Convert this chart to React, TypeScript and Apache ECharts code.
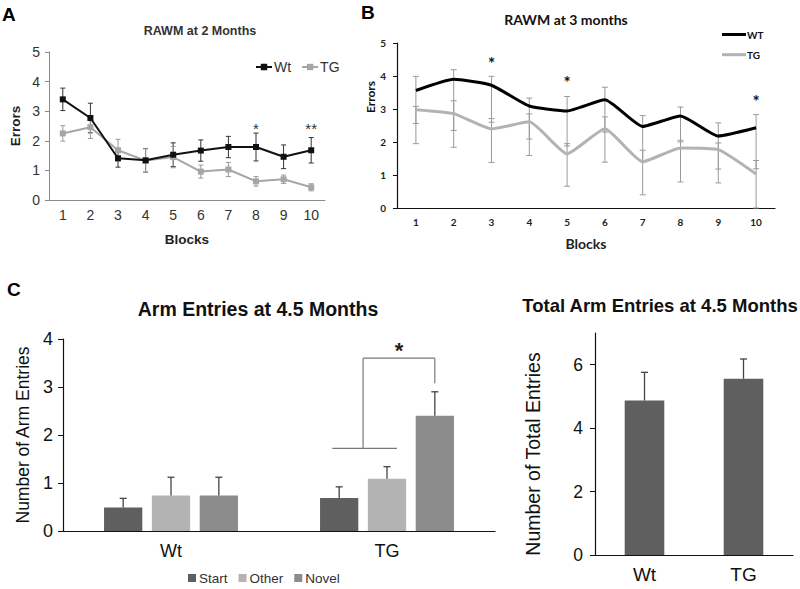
import React, { useEffect, useRef } from 'react';
import * as echarts from 'echarts';

// ---------- Panel A: RAWM at 2 Months ----------
const blockLabels = ['1', '2', '3', '4', '5', '6', '7', '8', '9', '10'];
const aWt = [3.40, 2.77, 1.41, 1.34, 1.53, 1.67, 1.79, 1.79, 1.46, 1.68];
const aWtErr = [0.38, 0.5, 0.3, 0.4, 0.4, 0.36, 0.36, 0.47, 0.4, 0.43];
const aTg = [2.25, 2.46, 1.68, 1.33, 1.45, 0.96, 1.03, 0.63, 0.70, 0.43];
const aTgErr = [0.26, 0.38, 0.37, 0.4, 0.36, 0.22, 0.24, 0.16, 0.14, 0.12];
const aStars = ['', '', '', '', '', '', '', '*', '', '**'];
const aStarLevel = 2.43;

// ---------- Panel B: RAWM at 3 months ----------
const bWt = [3.56, 3.90, 3.72, 3.09, 2.94, 3.28, 2.47, 2.79, 2.18, 2.43];
const bTg = [2.98, 2.86, 2.40, 2.61, 1.64, 2.40, 1.40, 1.82, 1.77, 1.03];
const bWtHigh = [3.99, 4.19, 3.99, 3.33, 3.38, 3.66, 2.80, 3.06, 2.58, 2.83];
const bWtLow = [2.56, 2.35, 2.60, 2.09, 1.88, 2.30, 1.42, 2.00, 1.18, 1.19];
const bTgHigh = [3.08, 3.25, 2.71, 2.85, 1.95, 2.76, 1.75, 2.05, 1.97, 1.44];
const bTgLow = [1.95, 1.84, 1.38, 1.59, 0.66, 1.39, 0.40, 0.79, 0.76, 0.00];
const bStars = ['', '', '*', '', '*', '', '', '', '', '*'];
const bStarLevels = [0, 0, 4.37, 0, 3.80, 0, 0, 0, 0, 3.23];

// ---------- Panel C left: Arm Entries at 4.5 Months ----------
const armGroups = ['Wt', 'TG'];
const armStart = [0.49, 0.69];
const armStartErr = [0.19, 0.23];
const armOther = [0.74, 1.09];
const armOtherErr = [0.38, 0.25];
const armNovel = [0.74, 2.40];
const armNovelErr = [0.38, 0.50];
const bracketLow = 1.72;
const bracketTop = 3.6;
const bracketRightEnd = 3.08;
const bracketStarLevel = 3.77;

// ---------- Panel C right: Total Arm Entries ----------
const totalGroups = ['Wt', 'TG'];
const totalEntries = [4.87, 5.56];
const totalErr = [0.89, 0.62];
const totalTicks = [0, 2, 4, 6];

const FA = 'Liberation Sans, Arial, sans-serif';
const FB = 'Lato, Open Sans, sans-serif';

const CAT_GAP = 0.38;
const BAR_GAP = 0.25;

const rangeRender = (stroke: string, lw: number, capHalf: number) => (params: any, api: any) => {
  const lo = api.coord([api.value(0), api.value(1)]);
  const hi = api.coord([api.value(0), api.value(2)]);
  const x = lo[0];
  const st = { stroke, lineWidth: lw };
  return {
    type: 'group',
    children: [
      { type: 'line', shape: { x1: x, y1: lo[1], x2: x, y2: hi[1] }, style: st },
      { type: 'line', shape: { x1: x - capHalf, y1: lo[1], x2: x + capHalf, y2: lo[1] }, style: st },
      { type: 'line', shape: { x1: x - capHalf, y1: hi[1], x2: x + capHalf, y2: hi[1] }, style: st },
    ],
  };
};

const groupedBarWidth = (bw: number, n: number) => (bw * (1 - CAT_GAP)) / (n + (n - 1) * BAR_GAP);

const upErrRender = (n: number, stroke: string, lw: number, capHalf: number) => (params: any, api: any) => {
  const base = api.coord([api.value(0), api.value(1)]);
  const top = api.coord([api.value(0), api.value(2)]);
  const k = api.value(3);
  const bw = api.size([1, 0])[0];
  const w = groupedBarWidth(bw, n);
  const off = (k - (n - 1) / 2) * w * (1 + BAR_GAP);
  const x = base[0] + off;
  const st = { stroke, lineWidth: lw };
  return {
    type: 'group',
    children: [
      { type: 'line', shape: { x1: x, y1: base[1], x2: x, y2: top[1] }, style: st },
      { type: 'line', shape: { x1: x - capHalf, y1: top[1], x2: x + capHalf, y2: top[1] }, style: st },
    ],
  };
};

const starRender = (labels: string[], fontSize: number, fontWeight: string, fill: string, family: string) =>
  (params: any, api: any) => {
    const p = api.coord([api.value(0), api.value(1)]);
    return {
      type: 'text',
      x: p[0],
      y: p[1],
      style: {
        text: labels[api.value(0)],
        fontSize,
        fontWeight,
        fontFamily: family,
        fill,
        align: 'center',
        verticalAlign: 'middle',
      },
    };
  };

function buildOption(): any {
  const aWtRange = aWt.map((v, i) => [i, v - aWtErr[i], v + aWtErr[i]]);
  const aTgRange = aTg.map((v, i) => [i, v - aTgErr[i], v + aTgErr[i]]);
  const aStarData = aStars.map((s, i) => (s ? [i, aStarLevel] : null)).filter(Boolean);
  const bWtRange = bWt.map((_, i) => [i, bWtLow[i], bWtHigh[i]]);
  const bTgRange = bTg.map((_, i) => [i, bTgLow[i], bTgHigh[i]]);
  const bStarData = bStars.map((s, i) => (s ? [i, bStarLevels[i]] : null)).filter(Boolean);
  const armSets = [
    [armStart, armStartErr],
    [armOther, armOtherErr],
    [armNovel, armNovelErr],
  ];
  const armErrData: number[][] = [];
  armSets.forEach(([vals, errs], k) => {
    vals.forEach((v, i) => armErrData.push([i, v, v + errs[i], k]));
  });

  const greyAxis = { lineStyle: { color: '#8a8a8a', width: 1 } };
  const blackAxis = { lineStyle: { color: '#111', width: 1.2 } };

  return {
    animation: false,
    backgroundColor: '#fff',
    grid: [
      { left: 49, top: 52, width: 276, height: 148 },
      { left: 397, top: 43, width: 378, height: 165 },
      { left: 63, top: 339, width: 432, height: 192 },
      { left: 595, top: 333, width: 198, height: 222 },
    ],
    xAxis: [
      {
        gridIndex: 0, type: 'category', data: blockLabels, boundaryGap: true,
        axisLine: greyAxis, axisTick: { length: 4, lineStyle: { color: '#8a8a8a' } },
        axisLabel: { fontSize: 14, color: '#333', fontFamily: FA, margin: 8 },
        name: 'Blocks', nameLocation: 'middle', nameGap: 32,
        nameTextStyle: { fontSize: 13.5, fontWeight: 'bold', color: '#222', fontFamily: FA },
      },
      {
        gridIndex: 1, type: 'category', data: blockLabels, boundaryGap: true,
        axisLine: blackAxis, axisTick: { length: 4, lineStyle: { color: '#111' } },
        axisLabel: { fontSize: 10, fontWeight: 'bold', color: '#222', fontFamily: FB, margin: 9 },
        name: 'Blocks', nameLocation: 'middle', nameGap: 28,
        nameTextStyle: { fontSize: 14, fontWeight: 'bold', color: '#222', fontFamily: FB },
      },
      {
        gridIndex: 2, type: 'category', data: armGroups, boundaryGap: true,
        axisLine: blackAxis, axisTick: { length: 5, lineStyle: { color: '#111' } },
        axisLabel: { fontSize: 18, color: '#111', fontFamily: FA, margin: 11 },
      },
      {
        gridIndex: 3, type: 'category', data: totalGroups, boundaryGap: true,
        axisLine: blackAxis, axisTick: { length: 5, lineStyle: { color: '#111' } },
        axisLabel: { fontSize: 19, color: '#111', fontFamily: FA, margin: 10 },
      },
    ],
    yAxis: [
      {
        gridIndex: 0, type: 'value', min: 0, max: 5, interval: 1,
        axisLine: { show: true, ...greyAxis }, axisTick: { show: true, length: 4, lineStyle: { color: '#8a8a8a' } },
        splitLine: { show: false },
        axisLabel: { fontSize: 14, color: '#333', fontFamily: FA, margin: 9 },
        name: 'Errors', nameLocation: 'middle', nameGap: 27,
        nameTextStyle: { fontSize: 13.5, fontWeight: 'bold', color: '#222', fontFamily: FA },
      },
      {
        gridIndex: 1, type: 'value', min: 0, max: 5, interval: 1,
        axisLine: { show: true, ...blackAxis }, axisTick: { show: true, length: 4, lineStyle: { color: '#111' } },
        splitLine: { show: false },
        axisLabel: { fontSize: 10, fontWeight: 'bold', color: '#222', fontFamily: FB, margin: 11 },
      },
      {
        gridIndex: 2, type: 'value', min: 0, max: 4, interval: 1,
        axisLine: { show: true, ...blackAxis }, axisTick: { show: true, length: 5, lineStyle: { color: '#111' } },
        splitLine: { show: false },
        axisLabel: { fontSize: 18, color: '#111', fontFamily: FA, margin: 10 },
        name: 'Number of Arm Entries', nameLocation: 'middle', nameGap: 24,
        nameTextStyle: { fontSize: 17.5, color: '#111', fontFamily: FA },
      },
      {
        gridIndex: 3, type: 'value', min: 0, max: 7, interval: 1,
        axisLine: { show: true, ...blackAxis },
        axisTick: { show: true, length: 5, lineStyle: { color: '#111' }, customValues: totalTicks },
        splitLine: { show: false },
        axisLabel: { fontSize: 17.5, color: '#111', fontFamily: FA, margin: 12, customValues: totalTicks },
      },
    ],
    legend: [
      {
        data: ['Wt', 'TG'], left: 250, top: 55, orient: 'horizontal',
        itemWidth: 16, itemHeight: 8, itemGap: 10,
        textStyle: { fontSize: 14, color: '#333', fontFamily: FA, padding: [0, 0, 0, -3] },
      },
      {
        data: ['Start', 'Other', 'Novel'], left: 183, top: 566, icon: 'rect',
        itemWidth: 8, itemHeight: 8, itemGap: 11,
        textStyle: { fontSize: 13.5, color: '#333', fontFamily: FA, padding: [0, 0, 0, -2] },
      },
    ],
    graphic: [
      { type: 'text', x: 2, y: 14, style: { text: 'A', fontSize: 19, fontWeight: 'bold', fontFamily: FA, fill: '#000', align: 'left', verticalAlign: 'middle' } },
      { type: 'text', x: 361, y: 12, style: { text: 'B', fontSize: 19, fontWeight: 'bold', fontFamily: FA, fill: '#000', align: 'left', verticalAlign: 'middle' } },
      { type: 'text', x: 7, y: 289, style: { text: 'C', fontSize: 19, fontWeight: 'bold', fontFamily: FA, fill: '#000', align: 'left', verticalAlign: 'middle' } },
      { type: 'text', x: 200, y: 31, style: { text: 'RAWM at 2 Months', fontSize: 12.5, fontWeight: 'bold', fontFamily: FA, fill: '#333', align: 'center', verticalAlign: 'middle' } },
      { type: 'text', x: 566, y: 19, style: { text: 'RAWM at 3 months', fontSize: 14, fontWeight: 'bold', fontFamily: FB, fill: '#111', align: 'center', verticalAlign: 'middle' } },
      { type: 'line', shape: { x1: 722, y1: 34.5, x2: 746, y2: 34.5 }, style: { stroke: '#000', lineWidth: 3 } },
      { type: 'text', x: 747, y: 34.5, style: { text: 'WT', fontSize: 10, fontWeight: 'bold', fontFamily: FB, fill: '#111', align: 'left', verticalAlign: 'middle' } },
      { type: 'line', shape: { x1: 722, y1: 54.7, x2: 746, y2: 54.7 }, style: { stroke: '#b3b3b3', lineWidth: 3 } },
      { type: 'text', x: 747, y: 54.7, style: { text: 'TG', fontSize: 10, fontWeight: 'bold', fontFamily: FB, fill: '#111', align: 'left', verticalAlign: 'middle' } },
      { type: 'text', x: 370, y: 97, rotation: Math.PI / 2, style: { text: 'Errors', fontSize: 12, fontWeight: 'bold', fontFamily: FB, fill: '#111', align: 'center', verticalAlign: 'middle' } },
      { type: 'text', x: 258, y: 309, style: { text: 'Arm Entries at 4.5 Months', fontSize: 19.5, fontWeight: 'bold', fontFamily: FA, fill: '#111', align: 'center', verticalAlign: 'middle' } },
      { type: 'text', x: 660, y: 305, style: { text: 'Total Arm Entries at 4.5 Months', fontSize: 18.5, fontWeight: 'bold', fontFamily: FA, fill: '#111', align: 'center', verticalAlign: 'middle' } },
      { type: 'text', x: 533, y: 454, rotation: Math.PI / 2, style: { text: 'Number of Total Entries', fontSize: 19.5, fontFamily: FA, fill: '#111', align: 'center', verticalAlign: 'middle' } },
    ],
    series: [
      // Panel A
      {
        type: 'custom', name: 'aWtErr', xAxisIndex: 0, yAxisIndex: 0, data: aWtRange,
        encode: { x: 0, y: [1, 2] }, renderItem: rangeRender('#333', 1, 2.5), z: 1,
      },
      {
        type: 'custom', name: 'aTgErr', xAxisIndex: 0, yAxisIndex: 0, data: aTgRange,
        encode: { x: 0, y: [1, 2] }, renderItem: rangeRender('#999', 1, 2.5), z: 1,
      },
      {
        type: 'line', name: 'Wt', xAxisIndex: 0, yAxisIndex: 0, data: aWt,
        symbol: 'rect', symbolSize: 6, color: '#111', lineStyle: { width: 2, color: '#111' },
        itemStyle: { color: '#111' }, z: 3,
      },
      {
        type: 'line', name: 'TG', xAxisIndex: 0, yAxisIndex: 0, data: aTg,
        symbol: 'rect', symbolSize: 6, color: '#a6a6a6', lineStyle: { width: 2, color: '#a6a6a6' },
        itemStyle: { color: '#a6a6a6' }, z: 2,
      },
      {
        type: 'custom', name: 'aStars', xAxisIndex: 0, yAxisIndex: 0, data: aStarData,
        color: '#333', itemStyle: { color: '#333' },
        encode: { x: 0, y: 1 }, renderItem: starRender(aStars, 15, 'normal', '#333', FA), z: 4,
      },
      // Panel B
      {
        type: 'custom', name: 'bWtErr', xAxisIndex: 1, yAxisIndex: 1, data: bWtRange,
        encode: { x: 0, y: [1, 2] }, renderItem: rangeRender('#9a9a9a', 1, 3), z: 1,
      },
      {
        type: 'custom', name: 'bTgErr', xAxisIndex: 1, yAxisIndex: 1, data: bTgRange,
        encode: { x: 0, y: [1, 2] }, renderItem: rangeRender('#9a9a9a', 1, 3), z: 1,
      },
      {
        type: 'line', name: 'WT', xAxisIndex: 1, yAxisIndex: 1, data: bWt,
        showSymbol: false, symbol: 'none', smooth: 0.15, color: '#000',
        lineStyle: { width: 3, color: '#000' }, z: 3,
      },
      {
        type: 'line', name: 'TG', xAxisIndex: 1, yAxisIndex: 1, data: bTg,
        showSymbol: false, symbol: 'none', smooth: 0.15, color: '#b3b3b3',
        lineStyle: { width: 3, color: '#b3b3b3' }, z: 2,
      },
      {
        type: 'custom', name: 'bStars', xAxisIndex: 1, yAxisIndex: 1, data: bStarData,
        color: '#111', itemStyle: { color: '#111' },
        encode: { x: 0, y: 1 }, renderItem: starRender(bStars, 17, 'bold', '#111', FB), z: 4,
      },
      // Panel C left
      {
        type: 'bar', name: 'Start', xAxisIndex: 2, yAxisIndex: 2, data: armStart,
        color: '#5f5f5f', itemStyle: { color: '#5f5f5f' },
        barCategoryGap: `${CAT_GAP * 100}%`, barGap: `${BAR_GAP * 100}%`,
      },
      {
        type: 'bar', name: 'Other', xAxisIndex: 2, yAxisIndex: 2, data: armOther,
        color: '#b3b3b3', itemStyle: { color: '#b3b3b3' },
        barCategoryGap: `${CAT_GAP * 100}%`, barGap: `${BAR_GAP * 100}%`,
      },
      {
        type: 'bar', name: 'Novel', xAxisIndex: 2, yAxisIndex: 2, data: armNovel,
        color: '#8c8c8c', itemStyle: { color: '#8c8c8c' },
        barCategoryGap: `${CAT_GAP * 100}%`, barGap: `${BAR_GAP * 100}%`,
      },
      {
        type: 'custom', name: 'armErr', xAxisIndex: 2, yAxisIndex: 2, data: armErrData,
        encode: { x: 0, y: [1, 2] }, renderItem: upErrRender(3, '#444', 1.3, 3.5), z: 3,
      },
      {
        type: 'custom', name: 'bracket', xAxisIndex: 2, yAxisIndex: 2,
        data: [[1, bracketLow, bracketTop, bracketRightEnd, bracketStarLevel]],
        color: '#222', itemStyle: { color: '#222' },
        encode: { x: 0, y: [1, 2] }, z: 3,
        renderItem: (params: any, api: any) => {
          const cat = api.value(0);
          const low = api.coord([cat, api.value(1)]);
          const top = api.coord([cat, api.value(2)]);
          const rightEnd = api.coord([cat, api.value(3)]);
          const star = api.coord([cat, api.value(4)]);
          const bw = api.size([1, 0])[0];
          const w = groupedBarWidth(bw, 3);
          const step = w * (1 + BAR_GAP);
          const startC = low[0] - step;
          const otherC = low[0];
          const novelC = low[0] + step;
          const midLeft = (startC + otherC) / 2;
          const st = { stroke: '#777', lineWidth: 1.2 };
          return {
            type: 'group',
            children: [
              { type: 'line', shape: { x1: startC - 0.18 * w, y1: low[1], x2: otherC + 0.26 * w, y2: low[1] }, style: st },
              { type: 'line', shape: { x1: midLeft, y1: low[1], x2: midLeft, y2: top[1] }, style: st },
              { type: 'line', shape: { x1: midLeft, y1: top[1], x2: novelC, y2: top[1] }, style: st },
              { type: 'line', shape: { x1: novelC, y1: top[1], x2: novelC, y2: rightEnd[1] }, style: st },
              {
                type: 'text', x: (midLeft + novelC) / 2, y: star[1],
                style: { text: '*', fontSize: 22, fontWeight: 'bold', fontFamily: FA, fill: '#222', align: 'center', verticalAlign: 'middle' },
              },
            ],
          };
        },
      },
      // Panel C right
      {
        type: 'bar', name: 'Total', xAxisIndex: 3, yAxisIndex: 3, data: totalEntries,
        color: '#5f5f5f', itemStyle: { color: '#5f5f5f' }, barWidth: '40%',
      },
      {
        type: 'custom', name: 'totalErr', xAxisIndex: 3, yAxisIndex: 3,
        data: totalEntries.map((v, i) => [i, v, v + totalErr[i], 0]),
        encode: { x: 0, y: [1, 2] }, renderItem: upErrRender(1, '#444', 1.3, 3.5), z: 3,
      },
    ],
  };
}

export default function App() {
  const ref = useRef<HTMLDivElement>(null);
  useEffect(() => {
    if (!ref.current) return;
    const chart = echarts.init(ref.current, null, { renderer: 'svg' });
    chart.setOption(buildOption());
    return () => chart.dispose();
  }, []);
  return (
    <div
      ref={ref}
      style={{ position: 'absolute', left: 0, top: 0, width: 800, height: 589, background: '#fff' }}
    />
  );
}
